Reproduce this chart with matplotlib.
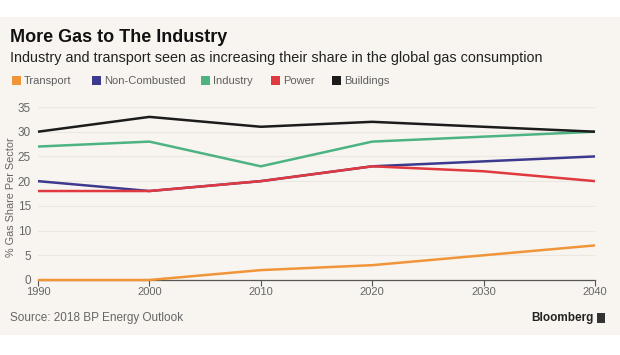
import matplotlib
matplotlib.use("Agg")
import matplotlib.pyplot as plt
from matplotlib.patches import Rectangle

years = [1990, 2000, 2010, 2020, 2030, 2040]
transport = [0, 0, 2, 3, 5, 7]
non_combusted = [20, 18, 20, 23, 24, 25]
industry = [27, 28, 23, 28, 29, 30]
power = [18, 18, 20, 23, 22, 20]
buildings = [30, 33, 31, 32, 31, 30]
series_names = ["Transport", "Non-Combusted", "Industry", "Power", "Buildings"]
colors = ["#f0953a", "#3b3a8e", "#4db383", "#e0393f", "#1c1c1c"]
yticks = [0, 5, 10, 15, 20, 25, 30, 35]

plt.rcParams['font.family'] = ['Liberation Sans', 'DejaVu Sans']

W, H = 620, 355
fig = plt.figure(figsize=(W/100, H/100), dpi=100)
fig.patch.set_facecolor("white")

def fx(px):
    return px / W

def fy(py):
    return 1 - py / H

bg = "#f8f5f0"
fig.patches.append(Rectangle((0, fy(335)), 1, fy(17) - fy(335), transform=fig.transFigure,
                             facecolor=bg, edgecolor="none", zorder=-10))

ax = fig.add_axes([fx(38), fy(280), fx(595) - fx(38), fy(107) - fy(280)])
ax.set_zorder(5)
ax.patch.set_alpha(0)

data = [transport, non_combusted, industry, power, buildings]
for vals, c, name in zip(data, colors, series_names):
    ax.plot(years, vals, color=c, lw=1.8, label=name, clip_on=False, zorder=3,
            solid_capstyle="butt")

ax.set_xlim(1990, 2040)
ax.set_ylim(0, 35)
ax.set_yticks(yticks)
ax.set_xticks(years)
ax.set_xticklabels([str(y) for y in years])
ax.grid(axis="y", color="#ebe7e1", lw=0.8, zorder=0)
ax.grid(axis="x", visible=False)
for s in ["top", "right", "left"]:
    ax.spines[s].set_visible(False)
ax.spines["bottom"].set_color("#555555")
ax.spines["bottom"].set_linewidth(0.9)
ax.tick_params(axis="y", length=0, labelsize=8.5, labelcolor="#666666", pad=5)
ax.tick_params(axis="x", length=4, width=0.8, color="#555555", labelsize=8, labelcolor="#666666", pad=1)

fig.text(fx(11), fy(197), "% Gas Share Per Sector", fontsize=7.8, color="#666666",
         rotation=90, va="center", ha="center")

fig.text(fx(10), fy(38), "More Gas to The Industry", fontsize=13, fontweight="bold",
         color="#111111", va="center", ha="left")
fig.text(fx(10), fy(58), "Industry and transport seen as increasing their share in the global gas consumption",
         fontsize=10.35, color="#222222", va="center", ha="left")

leg_x = [12, 92, 201, 271, 332]
for x0, name, c in zip(leg_x, series_names, colors):
    fig.patches.append(Rectangle((fx(x0), fy(85)), fx(9), fy(76) - fy(85), transform=fig.transFigure,
                                 facecolor=c, edgecolor="none"))
    fig.text(fx(x0 + 12), fy(80.5), name, fontsize=8, color="#5e5e5e", va="center", ha="left")

fig.text(fx(10), fy(318), "Source: 2018 BP Energy Outlook", fontsize=8.5, color="#666666",
         va="center", ha="left")
fig.text(fx(594), fy(318), "Bloomberg", fontsize=8.5, fontweight="bold", color="#222222",
         va="center", ha="right")
fig.patches.append(Rectangle((fx(597), fy(323)), fx(8), fy(313) - fy(323), transform=fig.transFigure,
                             facecolor="#333333", edgecolor="none"))

fig.savefig("out.png", dpi=100, facecolor=fig.get_facecolor())
